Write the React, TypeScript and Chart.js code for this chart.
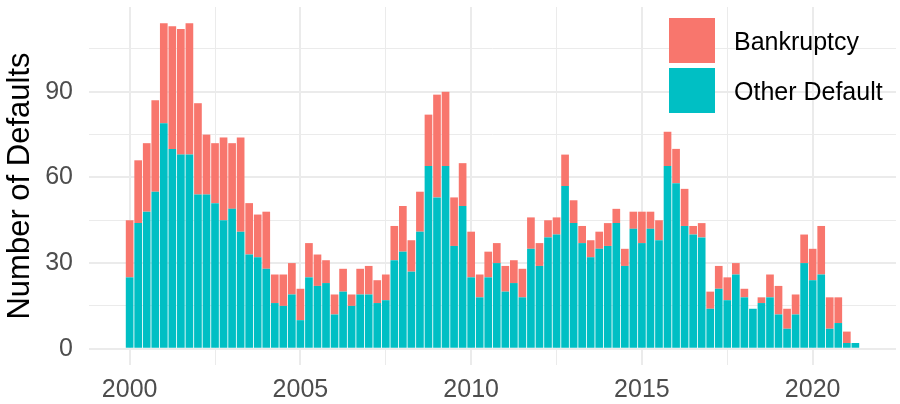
import React, { useEffect, useRef } from "react";
import { Chart, registerables } from "chart.js";

Chart.register(...registerables);

// Quarterly defaults, 2000 Q1 .. 2021 Q2
const firstYear = 2000;
const otherDefault = [
  25, 44, 48, 55, 79, 70, 68, 68, 54, 54,
  51, 45, 49, 41, 33, 32, 28, 16, 15, 19,
  10, 25, 22, 23, 12, 20, 15, 19, 19, 16,
  17, 31, 34, 27, 41, 64, 53, 64, 36, 50,
  25, 18, 25, 30, 20, 23, 18, 35, 29, 39,
  40, 57, 44, 37, 32, 35, 36, 44, 29, 42,
  37, 42, 38, 64, 58, 43, 40, 39, 14, 21,
  17, 26, 18, 14, 16, 18, 12, 7, 12, 30,
  24, 26, 7, 9, 2, 2,
];
const bankruptcy = [
  20, 22, 24, 32, 35, 43, 44, 46, 32, 21,
  21, 29, 23, 33, 18, 15, 20, 10, 11, 11,
  11, 12, 11, 8, 7, 8, 4, 9, 10, 8,
  9, 12, 16, 11, 14, 18, 36, 26, 17, 15,
  16, 8, 9, 7, 9, 8, 10, 11, 8, 6,
  6, 11, 8, 6, 6, 6, 8, 5, 6, 6,
  11, 6, 7, 12, 12, 13, 3, 5, 6, 8,
  8, 4, 3, 0, 2, 8, 10, 7, 7, 10,
  11, 17, 11, 9, 4, 0,
];
const periods = otherDefault.map(
  (_, i) => `${firstYear + Math.floor(i / 4)} Q${(i % 4) + 1}`
);
const xTickValues = [2000, 2002.5, 2005, 2007.5, 2010, 2012.5, 2015, 2017.5, 2020];
const xLabelYears = [2000, 2005, 2010, 2015, 2020];
const yTickValues = [0, 15, 30, 45, 60, 75, 90, 105];
const yLabelValues = [0, 30, 60, 90];

const FONT = "'Liberation Sans', Arial, Helvetica, sans-serif";
const RED = "#F8766D";
const TEAL = "#00BFC4";
const GRID = "#EBEBEB";

const periodToYear = (p: string) => {
  const [y, q] = p.split(" Q");
  return Number(y) + (Number(q) - 1) / 4;
};

const zeroPadding = (s: any) => {
  s.paddingTop = 0;
  s.paddingBottom = 0;
  s.paddingLeft = 0;
  s.paddingRight = 0;
};

const legendPlugin = {
  id: "ggLegend",
  afterDraw(chart: any) {
    const ctx = chart.ctx;
    const items = [
      { label: chart.data.datasets[1].label, color: RED, y: 18, base: 50 },
      { label: chart.data.datasets[0].label, color: TEAL, y: 68, base: 100 },
    ];
    ctx.save();
    for (const it of items) {
      ctx.fillStyle = it.color;
      ctx.fillRect(669, it.y, 46, 45);
      ctx.fillStyle = "#000000";
      ctx.font = `25px ${FONT}`;
      ctx.textAlign = "left";
      ctx.textBaseline = "alphabetic";
      ctx.fillText(it.label, 734, it.base);
    }
    ctx.restore();
  },
};

export default function App() {
  const ref = useRef<HTMLCanvasElement | null>(null);

  useEffect(() => {
    if (!ref.current) return;
    const xs = periods.map(periodToYear);
    const chart = new Chart(ref.current, {
      type: "bar",
      data: {
        datasets: [
          {
            label: "Other Default",
            data: xs.map((x, i) => ({ x, y: otherDefault[i] })),
            backgroundColor: TEAL,
            borderWidth: 0,
            barPercentage: 0.9,
            categoryPercentage: 1,
          },
          {
            label: "Bankruptcy",
            data: xs.map((x, i) => ({ x, y: bankruptcy[i] })),
            backgroundColor: RED,
            borderWidth: 0,
            barPercentage: 0.9,
            categoryPercentage: 1,
          },
        ],
      },
      options: {
        responsive: false,
        animation: false,
        layout: { padding: { left: 0, right: 4, top: 7, bottom: 0 } },
        plugins: { legend: { display: false }, tooltip: { enabled: false } },
        scales: {
          x: {
            type: "linear",
            stacked: true,
            min: 1998.81,
            max: 2022.44,
            offset: false,
            afterBuildTicks: (s: any) => {
              s.ticks = xTickValues.map((v) => ({ value: v }));
            },
            afterFit: (s: any) => {
              s.height = 39;
              zeroPadding(s);
            },
            grid: {
              offset: false,
              drawTicks: false,
              color: GRID,
              lineWidth: (c: any) => (c.tick && c.tick.value % 5 === 0 ? 2 : 1),
            },
            border: { display: false },
            ticks: {
              autoSkip: false,
              maxRotation: 0,
              minRotation: 0,
              padding: 10,
              color: "#4D4D4D",
              font: { family: FONT, size: 25 },
              callback: (v: any) => (xLabelYears.includes(Number(v)) ? String(v) : ""),
            },
          },
          y: {
            stacked: true,
            min: -5.7,
            max: 119.7,
            afterBuildTicks: (s: any) => {
              s.ticks = yTickValues.map((v) => ({ value: v }));
            },
            afterFit: (s: any) => {
              s.width = 89;
              zeroPadding(s);
            },
            grid: {
              drawTicks: false,
              color: GRID,
              lineWidth: (c: any) => (c.tick && c.tick.value % 30 === 0 ? 2 : 1),
            },
            border: { display: false },
            ticks: {
              autoSkip: false,
              padding: 16,
              color: "#4D4D4D",
              font: { family: FONT, size: 25 },
              callback: (v: any) => (yLabelValues.includes(Number(v)) ? String(v) : ""),
            },
            title: {
              display: true,
              text: "Number of Defaults",
              color: "#000000",
              font: { family: FONT, size: 31 },
              padding: { top: 2, bottom: 0 },
            },
          },
        },
      } as any,
      plugins: [legendPlugin],
    });
    return () => chart.destroy();
  }, []);

  return (
    <div
      style={{
        position: "fixed",
        left: 0,
        top: 0,
        width: 900,
        height: 404,
        background: "#ffffff",
      }}
    >
      <canvas ref={ref} width={900} height={404} style={{ width: 900, height: 404 }} />
    </div>
  );
}
